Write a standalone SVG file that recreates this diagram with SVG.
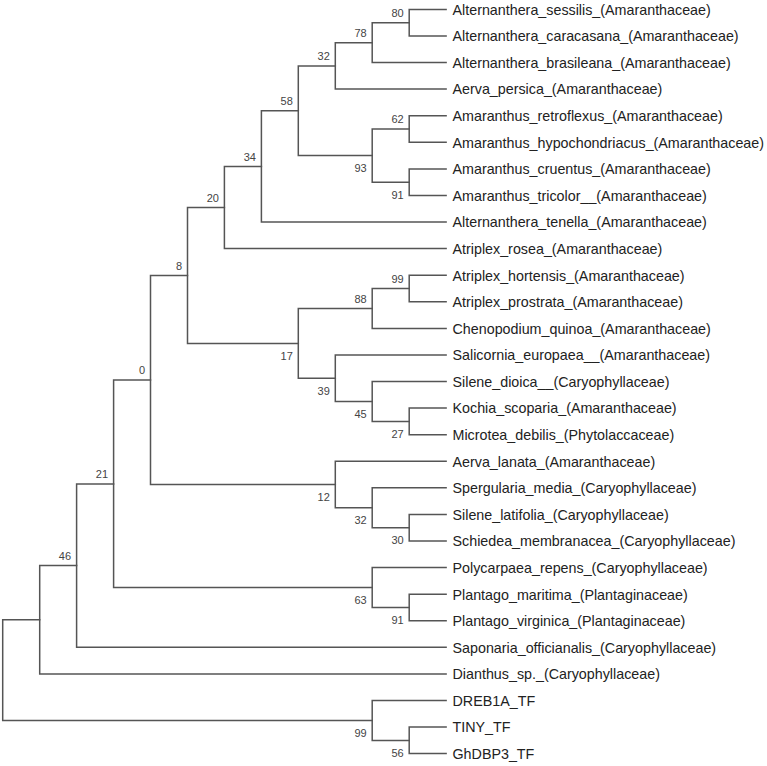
<svg xmlns="http://www.w3.org/2000/svg" width="767" height="766" viewBox="0 0 767 766">
<style>
.e{fill:none;stroke:#555;stroke-width:1.5;stroke-linejoin:miter;stroke-linecap:square}
.t{font-family:"Liberation Sans",Arial,sans-serif;font-size:14.3px;fill:#222}
.b{font-family:"Liberation Sans",Arial,sans-serif;font-size:11px;fill:#444;text-anchor:end}
</style>
<rect width="767" height="766" fill="#fff"/>
<g id="connectors">
<path class="e" d="M39.7 619.8 H2.7 V720.5 H372.2"/>
<path class="e" d="M76.6 565.6 H39.7 V673.9 H446.1"/>
<path class="e" d="M113.6 483.9 H76.6 V647.3 H446.1"/>
<path class="e" d="M150.5 380.1 H113.6 V587.6 H372.2"/>
<path class="e" d="M187.5 275.5 H150.5 V484.6 H335.3"/>
<path class="e" d="M224.4 207.5 H187.5 V343.4 H298.3"/>
<path class="e" d="M261.4 166.4 H224.4 V248.6 H446.1"/>
<path class="e" d="M298.3 110.8 H261.4 V222.0 H446.1"/>
<path class="e" d="M335.3 65.9 H298.3 V155.6 H372.2"/>
<path class="e" d="M372.2 42.7 H335.3 V89.1 H446.1"/>
<path class="e" d="M409.2 22.7 H372.2 V62.6 H446.1"/>
<path class="e" d="M446.1 9.4 H409.2 V36.0 H446.1"/>
<path class="e" d="M409.2 129.0 H372.2 V182.2 H409.2"/>
<path class="e" d="M446.1 115.7 H409.2 V142.3 H446.1"/>
<path class="e" d="M446.1 168.9 H409.2 V195.5 H446.1"/>
<path class="e" d="M372.2 308.5 H298.3 V378.2 H335.3"/>
<path class="e" d="M409.2 288.5 H372.2 V328.4 H446.1"/>
<path class="e" d="M446.1 275.2 H409.2 V301.8 H446.1"/>
<path class="e" d="M446.1 354.9 H335.3 V401.5 H372.2"/>
<path class="e" d="M446.1 381.5 H372.2 V421.4 H409.2"/>
<path class="e" d="M446.1 408.1 H409.2 V434.7 H446.1"/>
<path class="e" d="M446.1 461.3 H335.3 V507.8 H372.2"/>
<path class="e" d="M446.1 487.8 H372.2 V527.7 H409.2"/>
<path class="e" d="M446.1 514.4 H409.2 V541.0 H446.1"/>
<path class="e" d="M446.1 567.6 H372.2 V607.5 H409.2"/>
<path class="e" d="M446.1 594.2 H409.2 V620.7 H446.1"/>
<path class="e" d="M446.1 700.5 H372.2 V740.4 H409.2"/>
<path class="e" d="M446.1 727.1 H409.2 V753.6 H446.1"/>
</g>
<g id="internal-nodes">
<g id="n80"><text class="b" x="403.7" y="16.9">80</text></g>
<g id="n78"><text class="b" x="366.7" y="36.9">78</text></g>
<g id="n32a"><text class="b" x="329.8" y="60.1">32</text></g>
<g id="n58"><text class="b" x="292.8" y="105.0">58</text></g>
<g id="n34"><text class="b" x="255.9" y="160.6">34</text></g>
<g id="n20"><text class="b" x="218.9" y="201.7">20</text></g>
<g id="n8"><text class="b" x="182.0" y="269.7">8</text></g>
<g id="n0"><text class="b" x="145.0" y="374.3">0</text></g>
<g id="n21"><text class="b" x="108.1" y="478.1">21</text></g>
<g id="n46"><text class="b" x="71.1" y="559.8">46</text></g>
<g id="n62"><text class="b" x="403.7" y="123.2">62</text></g>
<g id="n99a"><text class="b" x="403.7" y="282.7">99</text></g>
<g id="n88"><text class="b" x="366.7" y="302.7">88</text></g>
<g id="n93"><text class="b" x="366.7" y="172.1">93</text></g>
<g id="n91a"><text class="b" x="403.7" y="198.7">91</text></g>
<g id="n17"><text class="b" x="292.8" y="359.9">17</text></g>
<g id="n39"><text class="b" x="329.8" y="394.7">39</text></g>
<g id="n45"><text class="b" x="366.7" y="418.0">45</text></g>
<g id="n27"><text class="b" x="403.7" y="437.9">27</text></g>
<g id="n12"><text class="b" x="329.8" y="501.1">12</text></g>
<g id="n32b"><text class="b" x="366.7" y="524.3">32</text></g>
<g id="n30"><text class="b" x="403.7" y="544.2">30</text></g>
<g id="n63"><text class="b" x="366.7" y="604.1">63</text></g>
<g id="n91b"><text class="b" x="403.7" y="624.0">91</text></g>
<g id="n99b"><text class="b" x="366.7" y="737.0">99</text></g>
<g id="n56"><text class="b" x="403.7" y="756.9">56</text></g>
</g>
<g id="leaves">
<g id="leaf0"><text class="t" x="452.5" y="14.7">Alternanthera_sessilis_(Amaranthaceae)</text></g>
<g id="leaf1"><text class="t" x="452.5" y="41.3">Alternanthera_caracasana_(Amaranthaceae)</text></g>
<g id="leaf2"><text class="t" x="452.5" y="67.9">Alternanthera_brasileana_(Amaranthaceae)</text></g>
<g id="leaf3"><text class="t" x="452.5" y="94.4">Aerva_persica_(Amaranthaceae)</text></g>
<g id="leaf4"><text class="t" x="452.5" y="121.0">Amaranthus_retroflexus_(Amaranthaceae)</text></g>
<g id="leaf5"><text class="t" x="452.5" y="147.6">Amaranthus_hypochondriacus_(Amaranthaceae)</text></g>
<g id="leaf6"><text class="t" x="452.5" y="174.2">Amaranthus_cruentus_(Amaranthaceae)</text></g>
<g id="leaf7"><text class="t" x="452.5" y="200.8">Amaranthus_tricolor__(Amaranthaceae)</text></g>
<g id="leaf8"><text class="t" x="452.5" y="227.3">Alternanthera_tenella_(Amaranthaceae)</text></g>
<g id="leaf9"><text class="t" x="452.5" y="253.9">Atriplex_rosea_(Amaranthaceae)</text></g>
<g id="leaf10"><text class="t" x="452.5" y="280.5">Atriplex_hortensis_(Amaranthaceae)</text></g>
<g id="leaf11"><text class="t" x="452.5" y="307.1">Atriplex_prostrata_(Amaranthaceae)</text></g>
<g id="leaf12"><text class="t" x="452.5" y="333.7">Chenopodium_quinoa_(Amaranthaceae)</text></g>
<g id="leaf13"><text class="t" x="452.5" y="360.2">Salicornia_europaea__(Amaranthaceae)</text></g>
<g id="leaf14"><text class="t" x="452.5" y="386.8">Silene_dioica__(Caryophyllaceae)</text></g>
<g id="leaf15"><text class="t" x="452.5" y="413.4">Kochia_scoparia_(Amaranthaceae)</text></g>
<g id="leaf16"><text class="t" x="452.5" y="440.0">Microtea_debilis_(Phytolaccaceae)</text></g>
<g id="leaf17"><text class="t" x="452.5" y="466.6">Aerva_lanata_(Amaranthaceae)</text></g>
<g id="leaf18"><text class="t" x="452.5" y="493.1">Spergularia_media_(Caryophyllaceae)</text></g>
<g id="leaf19"><text class="t" x="452.5" y="519.7">Silene_latifolia_(Caryophyllaceae)</text></g>
<g id="leaf20"><text class="t" x="452.5" y="546.3">Schiedea_membranacea_(Caryophyllaceae)</text></g>
<g id="leaf21"><text class="t" x="452.5" y="572.9">Polycarpaea_repens_(Caryophyllaceae)</text></g>
<g id="leaf22"><text class="t" x="452.5" y="599.5">Plantago_maritima_(Plantaginaceae)</text></g>
<g id="leaf23"><text class="t" x="452.5" y="626.0">Plantago_virginica_(Plantaginaceae)</text></g>
<g id="leaf24"><text class="t" x="452.5" y="652.6">Saponaria_officianalis_(Caryophyllaceae)</text></g>
<g id="leaf25"><text class="t" x="452.5" y="679.2">Dianthus_sp._(Caryophyllaceae)</text></g>
<g id="leaf26"><text class="t" x="452.5" y="705.8">DREB1A_TF</text></g>
<g id="leaf27"><text class="t" x="452.5" y="732.4">TINY_TF</text></g>
<g id="leaf28"><text class="t" x="452.5" y="758.9">GhDBP3_TF</text></g>
</g>
</svg>
